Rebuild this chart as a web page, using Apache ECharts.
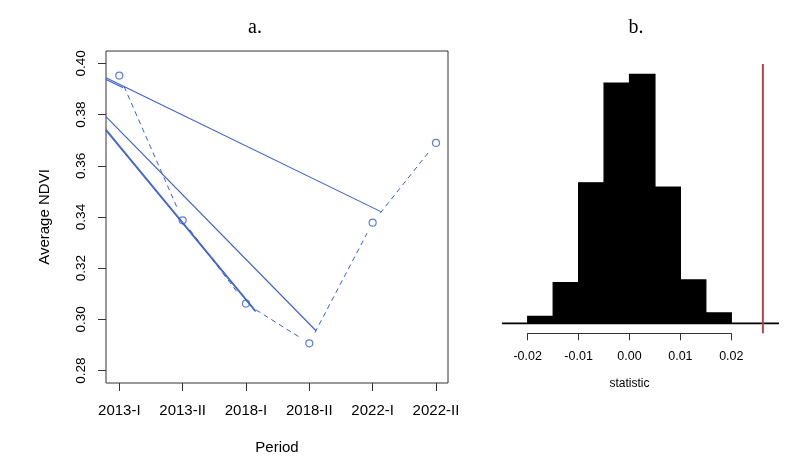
<!DOCTYPE html>
<html>
<head>
<meta charset="utf-8">
<script src="https://cdn.jsdelivr.net/npm/echarts@6/dist/echarts.min.js"></script>
<style>
  html, body { margin: 0; padding: 0; background: #fff; }
  #chart { width: 800px; height: 462px; }
</style>
</head>
<body>
<div id="chart"></div>
<script>
  // panel a: average NDVI per period
  const periods = ['2013-I', '2013-II', '2018-I', '2018-II', '2022-I', '2022-II'];
  const ndvi = [0.3952, 0.3387, 0.3062, 0.2907, 0.3378, 0.3689];
  // fitted segments: [xStart, yStart, xEnd, yEnd] (x = period index)
  const fitLines = [
    [0.79, 0.3944, 5.13, 0.3421],
    [0.79, 0.3937, 1.06, 0.3905],
    [0.79, 0.3792, 4.106, 0.2956],
    [0.79, 0.3742, 3.154, 0.3034],
    [0.79, 0.3737, 3.15, 0.3031]
  ];
  const yTicksA = [0.28, 0.30, 0.32, 0.34, 0.36, 0.38, 0.40];

  // panel b: permutation distribution of the statistic
  const binStart = [-0.02, -0.015, -0.01, -0.005, 0, 0.005, 0.01, 0.015];
  const binWidth = 0.005;
  const counts = [8, 47, 162, 277, 287, 157, 50, 12];
  const observed = 0.0262;
  const xTicksB = [-0.02, -0.01, 0, 0.01, 0.02];

  const blue = '#3a5fcd';
  const axisCol = '#333';
  const sans = 'Liberation Sans, Arial, sans-serif';
  const gap = 12; // px left open round each point (type = "b")

  const chart = echarts.init(document.getElementById('chart'));

  const connect = [];
  for (let i = 0; i < ndvi.length - 1; i++) {
    connect.push([i + 1, ndvi[i], i + 2, ndvi[i + 1]]);
  }
  const bins = binStart.map((s, i) => [s, s + binWidth, counts[i]]);
  const xMinB = -0.02505, xMaxB = 0.02937, yMinB = -11.5, yMaxB = 298.9;

  const fitSeries = fitLines.map(f => ({
    type: 'line',
    xAxisIndex: 0, yAxisIndex: 0,
    data: [[f[0], f[1]], [f[2], f[3]]],
    symbol: 'none',
    lineStyle: { color: blue, width: 1.1 },
    silent: true,
    z: 3
  }));

  chart.setOption({
    animation: false,
    title: [
      { text: 'a.', left: 250, top: 13, textAlign: 'center',
        textStyle: { fontFamily: 'Liberation Serif, Times New Roman, serif', fontSize: 20, fontWeight: 'normal', color: '#000' } },
      { text: 'b.', left: 631, top: 13, textAlign: 'center',
        textStyle: { fontFamily: 'Liberation Serif, Times New Roman, serif', fontSize: 20, fontWeight: 'normal', color: '#000' } }
    ],
    grid: [
      { left: 106, top: 51, width: 342, height: 332, show: true, borderColor: axisCol, borderWidth: 1, backgroundColor: 'transparent' },
      { left: 502, top: 64, width: 277, height: 269.3 },
      { left: 527.7, top: 332.3, width: 203.6, height: 1 }
    ],
    xAxis: [
      {
        gridIndex: 0, type: 'value', min: 0.79, max: 6.19,
        name: 'Period', nameLocation: 'middle', nameGap: 57,
        nameTextStyle: { fontFamily: sans, fontSize: 15, color: '#000' },
        axisLine: { show: false },
        splitLine: { show: false },
        axisTick: { show: true, inside: false, length: 8, customValues: [1, 2, 3, 4, 5, 6], lineStyle: { color: axisCol } },
        axisLabel: {
          customValues: [1, 2, 3, 4, 5, 6], margin: 20,
          fontFamily: sans, fontSize: 15, color: '#000',
          formatter: v => periods[Math.round(v) - 1]
        }
      },
      {
        gridIndex: 1, type: 'value', min: xMinB, max: xMaxB, show: false
      },
      {
        gridIndex: 2, type: 'value', min: -0.02, max: 0.02,
        name: 'statistic', nameLocation: 'middle', nameGap: 44,
        nameTextStyle: { fontFamily: sans, fontSize: 12, color: '#000' },
        axisLine: { show: true, onZero: false, lineStyle: { color: axisCol, width: 1 } },
        splitLine: { show: false },
        axisTick: { show: true, length: 7, customValues: xTicksB, lineStyle: { color: axisCol } },
        axisLabel: {
          customValues: xTicksB, margin: 17,
          fontFamily: sans, fontSize: 12.5, color: '#000',
          formatter: v => v.toFixed(2)
        }
      }
    ],
    yAxis: [
      {
        gridIndex: 0, type: 'value', min: 0.2752, max: 0.4048,
        name: 'Average NDVI', nameLocation: 'middle', nameGap: 54,
        nameTextStyle: { fontFamily: sans, fontSize: 15, color: '#000' },
        axisLine: { show: false },
        splitLine: { show: false },
        axisTick: { show: true, inside: false, length: 8, customValues: yTicksA, lineStyle: { color: axisCol } },
        axisLabel: {
          customValues: yTicksA, rotate: 90, margin: 18,
          fontFamily: sans, fontSize: 13.5, color: '#000',
          formatter: v => v.toFixed(2)
        }
      },
      {
        gridIndex: 1, type: 'value', min: yMinB, max: yMaxB, show: false
      },
      {
        gridIndex: 2, type: 'value', min: 0, max: 1, show: false
      }
    ],
    series: fitSeries.concat([
      {
        type: 'custom',
        xAxisIndex: 0, yAxisIndex: 0,
        data: connect,
        silent: true,
        z: 2,
        renderItem: function (params, api) {
          const p0 = api.coord([api.value(0), api.value(1)]);
          const p1 = api.coord([api.value(2), api.value(3)]);
          const dx = p1[0] - p0[0], dy = p1[1] - p0[1];
          const len = Math.sqrt(dx * dx + dy * dy);
          const ux = dx / len, uy = dy / len;
          return {
            type: 'line',
            shape: { x1: p0[0] + ux * gap, y1: p0[1] + uy * gap, x2: p1[0] - ux * gap, y2: p1[1] - uy * gap },
            style: { stroke: blue, lineWidth: 1, lineDash: [5, 4] }
          };
        }
      },
      {
        type: 'scatter',
        xAxisIndex: 0, yAxisIndex: 0,
        data: ndvi.map((v, i) => [i + 1, v]),
        symbol: 'circle',
        symbolSize: 7,
        itemStyle: { color: 'rgba(0,0,0,0)', borderColor: blue, borderWidth: 1.2 },
        z: 4
      },
      {
        type: 'custom',
        xAxisIndex: 1, yAxisIndex: 1,
        data: bins,
        silent: true,
        renderItem: function (params, api) {
          const a = api.coord([api.value(0), api.value(2)]);
          const b = api.coord([api.value(1), 0]);
          return {
            type: 'rect',
            shape: { x: a[0], y: a[1], width: b[0] - a[0], height: b[1] - a[1] },
            style: { fill: '#000', stroke: '#000', lineWidth: 1.2 }
          };
        }
      },
      {
        type: 'line',
        xAxisIndex: 1, yAxisIndex: 1,
        data: [[xMinB, 0], [xMaxB, 0]],
        symbol: 'none',
        lineStyle: { color: '#000', width: 1.8 },
        silent: true
      },
      {
        type: 'line',
        xAxisIndex: 1, yAxisIndex: 1,
        data: [[observed, yMinB], [observed, yMaxB]],
        symbol: 'none',
        lineStyle: { color: '#b5424a', width: 2 },
        silent: true
      }
    ])
  });
</script>
</body>
</html>
